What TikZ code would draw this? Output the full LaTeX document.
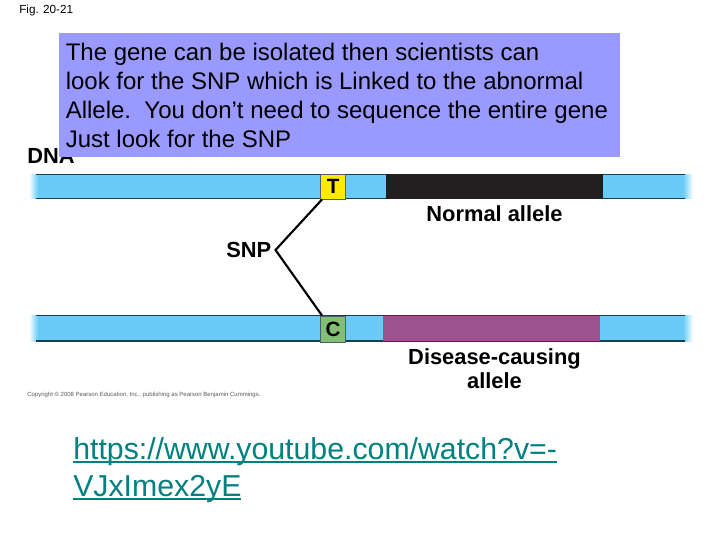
\documentclass[tikz,border=0pt]{standalone}
\usepackage{xcolor}
\usepackage{fontspec}
\setmainfont{Liberation Sans}
\usepackage{tikz}
\usetikzlibrary{calc,positioning}
\definecolor{barblue}{RGB}{104,204,247}
\definecolor{barline}{RGB}{30,60,80}
\definecolor{notegray}{RGB}{153,153,255}
\definecolor{linkteal}{RGB}{0,128,128}
\definecolor{basegreen}{RGB}{130,190,115}
\definecolor{baseyellow}{RGB}{255,235,0}
\definecolor{allelepurple}{RGB}{155,82,142}
\definecolor{alleleblack}{RGB}{35,31,32}
\newcommand{\linkline}[1]{\setbox0=\hbox{#1}\rlap{\rule[-3pt]{\wd0}{1.6pt}}\box0}
\tikzset{
  basebox/.style={draw=barline!50!gray,line width=0.6pt,inner sep=0pt,minimum width=19pt,minimum height=18.5pt,font=\fontsize{15.5}{15.5}\selectfont\bfseries},
  boldlabel/.style={inner sep=0pt,align=center,font=\fontsize{16.4}{18}\selectfont\bfseries},
  notetext/.style={inner sep=0pt,anchor=north west,align=left,font=\fontsize{18}{21.9}\selectfont},
  linktext/.style={inner sep=0pt,anchor=north west,align=left,text=linkteal,font=\fontsize{22.7}{27.8}\selectfont},
}
\begin{document}
\begin{tikzpicture}[x=0.75pt,y=-0.75pt]
\useasboundingbox (0,0) rectangle (720,540);
\node [inner sep=0pt,anchor=west,font=\fontsize{8.8}{8.8}\selectfont] (fig) at (19,10) {Fig. 20-21};
\node [boldlabel,anchor=west] (dna) at (27,156) {DNA};
% note on top of the DNA label
\node [fill=notegray,minimum width=561*0.75pt,minimum height=124*0.75pt,inner sep=0pt,anchor=north west] (note) at (59,33) {};
\node [notetext] (notetxt) at (65.5,42.5) {The gene can be isolated then scientists can\\look for the SNP which is Linked to the abnormal\\Allele.\ \ You don’t need to sequence the entire gene\\Just look for the SNP};
% upper bar
\fill [barblue] (38,174) rectangle (683,198.5);
\shade [left color=white,right color=barblue,draw=none] (29,174) rectangle (38,198.5);
\shade [left color=barblue,right color=white,draw=none] (683,174) rectangle (693,198.5);
\draw [barline,line width=0.7pt] (36,174) -- (685,174) (36,198.5) -- (685,198.5);
\fill [alleleblack] (386,174) rectangle (603,199);
\node [basebox,fill=baseyellow,anchor=north west] (T) at (320,174) {T};
% lower bar
\fill [barblue] (38,315.5) rectangle (683,341);
\shade [left color=white,right color=barblue,draw=none] (29,315.5) rectangle (38,341);
\shade [left color=barblue,right color=white,draw=none] (683,315.5) rectangle (693,341);
\draw [barline,line width=0.9pt] (36,315.5) -- (685,315.5) (36,341) -- (685,341);
\fill [allelepurple] (383,315.5) rectangle (600,341);
\node [basebox,fill=basegreen,anchor=north west,minimum height=19.5pt] (C) at (320,315.5) {C};
% SNP pointer
\node [boldlabel,anchor=east] (snp) at (271.5,250) {SNP};
\coordinate [right=3pt of snp] (tip);
\draw [line width=1.6pt,line join=miter] (T.south west) ++(2,0) coordinate (tstart) -- (tip) -- ($(C.north west)+(2,0)$);
\node [boldlabel] (normal) at (494.5,214) {Normal allele};
\node [boldlabel] (disease) at (494.5,368.5) {Disease-causing\\allele};
\node [inner sep=0pt,anchor=west,text=black!65,font=\fontsize{4.5}{5}\selectfont] (copy) at (27,395) {Copyright © 2008 Pearson Education, Inc., publishing as Pearson Benjamin Cummings.};
\node [linktext] (link) at (73,437) {\linkline{https://www.youtube.com/watch?v=-}\\\linkline{VJxImex2yE}};
\end{tikzpicture}
\end{document}
